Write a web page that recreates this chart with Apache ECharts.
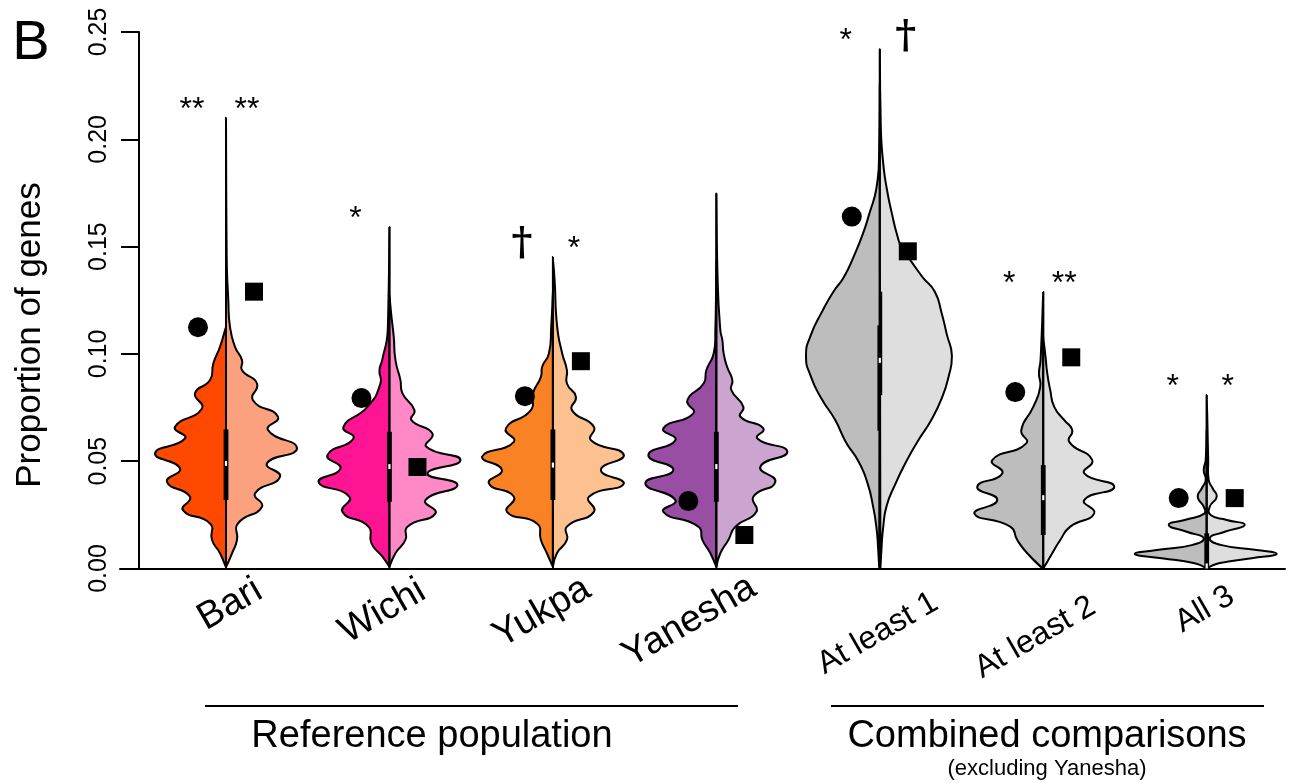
<!DOCTYPE html>
<html><head><meta charset="utf-8">
<script src="https://cdn.jsdelivr.net/npm/echarts@6/dist/echarts.min.js"></script>
<style>html,body{margin:0;padding:0;background:#fff}#c{width:1290px;height:783px}</style>
</head><body><div id="c"></div>
<script>
// ---------------- data ----------------
const categories = ['Bari','Wichi','Yukpa','Yanesha','At least 1','At least 2','All 3'];
const yTicks = [0, 0.05, 0.10, 0.15, 0.20, 0.25];

// split-violin density profiles: [proportion, relative density]
const bariLeft = [[0.0006,0],[0.0071,6],[0.0133,14],[0.0210,16],[0.0272,43],[0.0334,36],[0.0404,59],[0.0466,46],[0.0536,71],[0.0606,41],[0.0660,51],[0.0746,24],[0.0816,31],[0.0878,16],[0.0955,12.7],[0.1033,6],[0.1126,0]];
const bariRight = [[0.0006,0],[0.0071,6],[0.0133,11],[0.0210,12],[0.0288,36],[0.0350,29],[0.0427,54],[0.0490,41],[0.0560,71],[0.0645,42],[0.0707,52],[0.0784,27],[0.0862,31],[0.0924,16],[0.0971,16],[0.1033,9],[0.1126,4],[0.1250,2.3],[0.1452,0.7],[0.2100,0]];
const wichiLeft = [[0.0008,0],[0.0055,7],[0.0117,18],[0.0195,21],[0.0264,47],[0.0334,40],[0.0404,71],[0.0466,49],[0.0528,62],[0.0606,36],[0.0660,46],[0.0753,22],[0.0862,9],[0.0924,10],[0.0971,7.3],[0.1110,1.7],[0.1591,0]];
const wichiRight = [[0.0008,0],[0.0071,6],[0.0133,16],[0.0195,18],[0.0257,46],[0.0319,36],[0.0389,68],[0.0443,38],[0.0505,71],[0.0567,37],[0.0629,43],[0.0691,22],[0.0738,25],[0.0816,13],[0.0878,11],[0.0971,6],[0.1079,4.3],[0.1188,1.7],[0.1273,0]];
const yukpaLeft = [[0.0008,0],[0.0071,6],[0.0133,12],[0.0210,16],[0.0264,46],[0.0334,39],[0.0397,64],[0.0459,51],[0.0520,71],[0.0590,39],[0.0653,47],[0.0738,22],[0.0816,20],[0.0893,12],[0.0940,10.7],[0.1002,4],[0.1126,1.7],[0.1289,0]];
const yukpaRight = [[0.0008,0],[0.0071,4],[0.0133,14],[0.0195,14],[0.0264,41],[0.0334,36],[0.0397,71],[0.0459,48],[0.0528,71],[0.0598,38],[0.0660,41],[0.0738,19],[0.0800,23],[0.0862,14],[0.0924,14],[0.1002,9.3],[0.1126,4.3],[0.1343,1.7],[0.1452,0]];
const yaneshaLeft = [[0.0008,0],[0.0071,6],[0.0133,14],[0.0195,18],[0.0264,53],[0.0319,41],[0.0397,71],[0.0459,43],[0.0528,68],[0.0598,41],[0.0653,53],[0.0723,23],[0.0784,29],[0.0862,12.7],[0.0924,10],[0.1002,2.7],[0.1110,1],[0.1428,0]];
const yaneshaRight = [[0.0008,0],[0.0071,4],[0.0133,12],[0.0195,19],[0.0264,40],[0.0334,37],[0.0404,59],[0.0474,44],[0.0544,71],[0.0606,41],[0.0653,47],[0.0707,24],[0.0753,27],[0.0831,15],[0.0878,16],[0.0940,10.7],[0.1002,7.3],[0.1064,6],[0.1110,4],[0.1343,1.3],[0.1747,0]];
const atLeast1Left = [[0,0.6],[0.0094,1.7],[0.0193,3.4],[0.0293,6.9],[0.0393,12],[0.0493,20.6],[0.0592,34.3],[0.0692,44.6],[0.0792,58.4],[0.0892,68.7],[0.0991,73.8],[0.1091,68.7],[0.1191,58.4],[0.1290,46.4],[0.1357,36],[0.1457,25.8],[0.1556,17.2],[0.1656,10.3],[0.1772,3.4],[0.1930,0.7],[0.2263,0]];
const atLeast1Right = [[0,0.6],[0.0094,1.7],[0.0193,3.4],[0.0293,6.9],[0.0393,15.5],[0.0493,25.8],[0.0592,37.8],[0.0692,51.5],[0.0792,61.8],[0.0892,68.7],[0.0991,72.1],[0.1091,67],[0.1191,61.8],[0.1290,55],[0.1357,42.9],[0.1423,32.6],[0.1490,22.3],[0.1556,17.2],[0.1656,12],[0.1772,6.9],[0.1889,3.4],[0.2055,1],[0.2420,0]];
const atLeast2Left = [[0.0001,0],[0.0071,16],[0.0133,26],[0.0195,33],[0.0257,69],[0.0319,46],[0.0381,66],[0.0443,41],[0.0505,51],[0.0583,17],[0.0645,22],[0.0753,10],[0.0846,3],[0.0909,4.3],[0.0971,2.7],[0.1289,0]];
const atLeast2Right = [[0.0001,0],[0.0071,9],[0.0133,17],[0.0195,27],[0.0257,51],[0.0319,41],[0.0381,71],[0.0443,41],[0.0505,49],[0.0590,26],[0.0645,29],[0.0691,21],[0.0753,11],[0.0831,7],[0.0909,4],[0.0986,2.3],[0.1079,0]];
const all3Left = [[0.0001,0],[0.0024,12],[0.0048,45],[0.0068,72],[0.0086,50],[0.0109,15],[0.0141,3],[0.0171,20],[0.0203,38],[0.0226,22],[0.0257,2],[0.0288,3],[0.0334,9],[0.0373,5],[0.0412,1],[0.0459,3],[0.0505,1],[0.0645,0]];
const all3Right = [[0.0001,0],[0.0024,12],[0.0048,45],[0.0068,70],[0.0086,50],[0.0109,15],[0.0141,3],[0.0171,18],[0.0203,38],[0.0226,20],[0.0249,4],[0.0288,3],[0.0334,10],[0.0373,6],[0.0412,2],[0.0505,1.5],[0.0808,0]];

const leftProfiles = [bariLeft, wichiLeft, yukpaLeft, yaneshaLeft, atLeast1Left, atLeast2Left, all3Left];
const rightProfiles = [bariRight, wichiRight, yukpaRight, yaneshaRight, atLeast1Right, atLeast2Right, all3Right];

// box summaries [q1, median, q3]
const boxLeft  = [[0.0319,0.0490,0.0648],[0.0311,0.0475,0.0637],[0.0319,0.0482,0.0648],[0.0311,0.0475,0.0637],[0.0642,0.0970,0.1133],[0.0156,0.0330,0.0482],[0.0006,0.0012,0.0164]];
const boxRight = [[0.0319,0.0490,0.0648],[0.0311,0.0475,0.0637],[0.0319,0.0482,0.0648],[0.0311,0.0475,0.0637],[0.0808,0.0970,0.1290],[0.0156,0.0330,0.0482],[0.0006,0.0012,0.0164]];

// observed values
const observedCircle = [0.1124, 0.0794, 0.0803, 0.0314, 0.1640, 0.0822, 0.0328];
const observedSquare = [0.1290, 0.0473, 0.0966, 0.0156, 0.1478, 0.0984, 0.0328];

// significance marks
const sigLeft  = ['**', '*', '\u2020', '', '*', '*', '*'];
const sigRight = ['**', '', '*', '', '\u2020', '**', '*'];

// ---------------- style / layout ----------------
const leftColors  = ['#FF4800', '#FF1493', '#F98224', '#984EA3', '#BDBDBD', '#BDBDBD', '#BDBDBD'];
const rightColors = ['#FCA17D', '#FF88C6', '#FDC08F', '#CBA5D0', '#DEDEDE', '#DEDEDE', '#DEDEDE'];
const DENS_TO_X = 1 / 163.45;      // relative density -> category units
const MARK_DX = 0.1713;            // marker offset (category units)
const FONT = 'Liberation Sans, Arial, Helvetica, sans-serif';
const labelLayout = [[4,36,38],[-7,43,38],[-11,44,38],[-27,53,38],[-2,65,32],[-8,69,32],[-2,41,32]];

const chart = echarts.init(document.getElementById('c'), null, {renderer: 'canvas'});

function renderItem(params, api) {
  const i = params.dataIndex;
  const cx = i + 1;
  const base = api.coord([cx, 0]);
  const kids = [];
  const halves = [[leftProfiles[i], -1, leftColors[i]], [rightProfiles[i], 1, rightColors[i]]];
  let topPx = base[1];
  halves.forEach(([prof, sgn, col]) => {
    const pts = prof.map(([v, d]) => api.coord([cx + sgn * d * DENS_TO_X, v]));
    let minX = Infinity, maxX = -Infinity, minY = Infinity, maxY = -Infinity;
    pts.forEach(p => { minX = Math.min(minX, p[0]); maxX = Math.max(maxX, p[0]); minY = Math.min(minY, p[1]); maxY = Math.max(maxY, p[1]); });
    if (sgn < 0) maxX = base[0]; else minX = base[0];
    topPx = Math.min(topPx, minY);
    kids.push({
      type: 'polygon',
      shape: {points: pts, smooth: 0.55, smoothConstraint: [[minX, minY], [maxX, maxY]]},
      style: {fill: col, stroke: '#000', lineWidth: 2, lineJoin: 'round'}
    });
  });
  // center line
  kids.push({type: 'line', shape: {x1: base[0], y1: base[1], x2: base[0], y2: topPx}, style: {stroke: '#000', lineWidth: 1.8}});
  // boxes
  const BW = 2.4;
  [[boxLeft[i], -1], [boxRight[i], 1]].forEach(([b, sgn]) => {
    const q1 = api.coord([cx, b[0]])[1], q3 = api.coord([cx, b[2]])[1];
    kids.push({type: 'rect', shape: {x: sgn < 0 ? base[0] - BW : base[0], y: q3, width: BW, height: q1 - q3}, style: {fill: '#000'}});
  });
  const med = api.coord([cx, (boxLeft[i][1] + boxRight[i][1]) / 2])[1];
  kids.push({type: 'rect', shape: {x: base[0] - 1.1, y: med - 2.5, width: 2.2, height: 5}, style: {fill: '#fff'}});
  // observed markers
  const c = api.coord([cx - MARK_DX, observedCircle[i]]);
  kids.push({type: 'circle', shape: {cx: c[0], cy: c[1], r: 10}, style: {fill: '#000'}});
  const s = api.coord([cx + MARK_DX, observedSquare[i]]);
  kids.push({type: 'rect', shape: {x: s[0] - 9, y: s[1] - 9, width: 18, height: 18}, style: {fill: '#000'}});
  // significance marks
  [[sigLeft[i], -1], [sigRight[i], 1]].forEach(([t, sgn]) => {
    if (!t) return;
    const dagger = t === '\u2020';
    const dx = sgn < 0 ? (dagger ? -31 : -34) : (dagger ? 26 : 21);
    kids.push({
      type: 'text', x: base[0] + dx, y: dagger ? topPx - 12 : topPx - 8,
      style: {text: t, fill: '#000', fontSize: dagger ? 40 : 32, fontFamily: dagger ? 'DejaVu Serif' : FONT,
              fontWeight: dagger ? 'bold' : 'normal', align: 'center', verticalAlign: 'middle'}
    });
  });
  // category label
  const L = labelLayout[i];
  kids.push({
    type: 'text', x: base[0] + L[0], y: base[1] + L[1], rotation: Math.PI / 6,
    style: {text: categories[i], fill: '#000', fontSize: L[2], fontFamily: FONT, align: 'center', verticalAlign: 'middle'}
  });
  return {type: 'group', children: kids};
}

chart.setOption({
  animation: false,
  backgroundColor: '#fff',
  grid: {left: 120, right: 5, top: 32, bottom: 214.5},
  xAxis: {
    type: 'value', min: 0.3515, max: 7.479,
    axisLine: {show: true, onZero: false, lineStyle: {color: '#000', width: 2}},
    axisTick: {show: false}, axisLabel: {show: false}, splitLine: {show: false}
  },
  yAxis: {
    type: 'value', min: yTicks[0], max: yTicks[yTicks.length - 1], interval: 0.05, offset: -19,
    axisLine: {show: true, lineStyle: {color: '#000', width: 2}},
    axisTick: {show: true, length: 18, lineStyle: {color: '#000', width: 2}},
    axisLabel: {rotate: 90, margin: 27, fontSize: 25, color: '#000', fontFamily: FONT, formatter: v => v.toFixed(2)},
    splitLine: {show: false}
  },
  series: [{
    type: 'custom', clip: false,
    data: categories.map((c, i) => [i + 1, 0]),
    encode: {x: 0, y: 1},
    renderItem: renderItem
  }],
  graphic: [
    {type: 'text', x: 31, y: 44, style: {text: 'B', fontSize: 56, fontFamily: FONT, fill: '#000', align: 'center', verticalAlign: 'middle'}},
    {type: 'text', x: 30, y: 335, rotation: Math.PI / 2, style: {text: 'Proportion of genes', fontSize: 35, fontFamily: FONT, fill: '#000', align: 'center', verticalAlign: 'middle'}},
    {type: 'line', shape: {x1: 205, y1: 706, x2: 738, y2: 706}, style: {stroke: '#000', lineWidth: 2}},
    {type: 'line', shape: {x1: 831, y1: 706, x2: 1264, y2: 706}, style: {stroke: '#000', lineWidth: 2}},
    {type: 'text', x: 432, y: 737, style: {text: 'Reference population', fontSize: 38, fontFamily: FONT, fill: '#000', align: 'center', verticalAlign: 'middle'}},
    {type: 'text', x: 1047, y: 737, style: {text: 'Combined comparisons', fontSize: 38, fontFamily: FONT, fill: '#000', align: 'center', verticalAlign: 'middle'}},
    {type: 'text', x: 1047, y: 769, style: {text: '(excluding Yanesha)', fontSize: 22, fontFamily: FONT, fill: '#000', align: 'center', verticalAlign: 'middle'}}
  ]
});
</script>
</body></html>
